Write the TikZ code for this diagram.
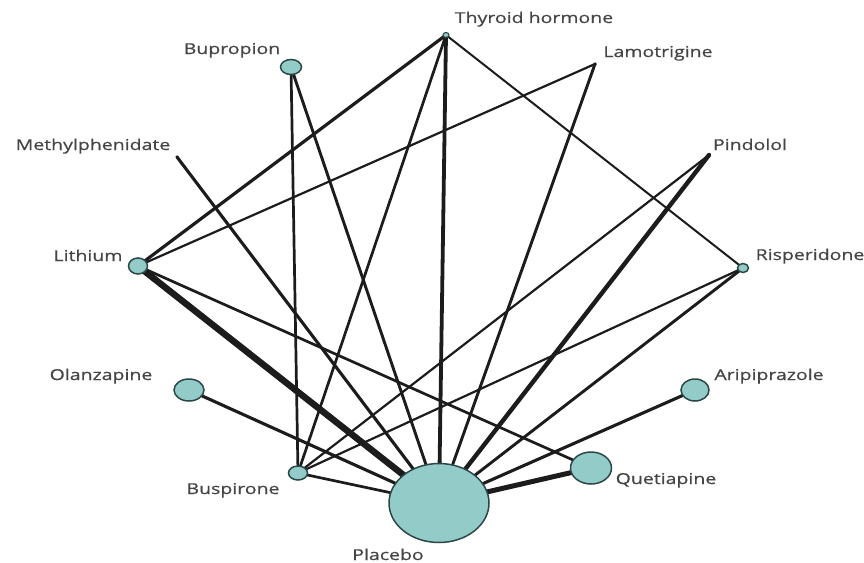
\documentclass[tikz,border=0pt]{standalone}
\usepackage{fontspec}
\newfontfamily\lblfont{Open Sans}[FakeStretch=1.3,FakeBold=0.6]
\usetikzlibrary{shapes.geometric,backgrounds}
\definecolor{nodefill}{HTML}{92CBC7}
\definecolor{nodeedge}{HTML}{2B4747}
\definecolor{edgecol}{HTML}{1C1C1C}
\definecolor{txtcol}{HTML}{454545}
\tikzset{
  trt/.style n args={2}{ellipse, draw=nodeedge, fill=nodefill, line width=1.5pt,
    inner sep=0pt, minimum width=#1, minimum height=#2},
  tinydot/.style={circle, fill=edgecol, inner sep=0pt, minimum size=3.5pt},
  lbl/.style={anchor=base, inner sep=0pt, text=txtcol, font=\lblfont\fontsize{15}{18}\selectfont},
  cx/.style={draw=edgecol, line width=#1, line cap=round}
}
\begin{document}
\begin{tikzpicture}[x=1pt,y=-1pt]
\useasboundingbox (0,0) rectangle (864,562);
% nodes
\node[trt={100pt}{79pt}] (pla) at (439,503) {};
\node[trt={41pt}{32pt}] (que) at (591,468) {};
\node[trt={28pt}{22pt}] (ari) at (695,390) {};
\node[trt={30pt}{22pt}] (ola) at (189,390) {};
\node[trt={21pt}{15pt}] (bup) at (291,67) {};
\node[trt={19pt}{16pt}] (lit) at (138,266) {};
\node[trt={19pt}{14pt}] (bus) at (298,473) {};
\node[trt={11pt}{9pt}] (ris) at (743,268) {};
\node[trt={6pt}{5pt}, line width=1.1pt] (thy) at (446,35) {};
\node[tinydot] (lam) at (595,64) {};
\node[tinydot] (met) at (177,157) {};
\node[tinydot] (pin) at (709,155) {};
% labels
\node[lbl] (lthy) at (534,23) {Thyroid hormone};
\node[lbl] (llam) at (658,57) {Lamotrigine};
\node[lbl] (lbup) at (232,54) {Bupropion};
\node[lbl] (lmet) at (93,150) {Methylphenidate};
\node[lbl] (lpin) at (750,150) {Pindolol};
\node[lbl] (llit) at (88,261) {Lithium};
\node[lbl] (lris) at (810,260) {Risperidone};
\node[lbl] (lola) at (101,380) {Olanzapine};
\node[lbl] (lari) at (769,380) {Aripiprazole};
\node[lbl] (lbus) at (233,494) {Buspirone};
\node[lbl] (lque) at (666,484) {Quetiapine};
\node[lbl] (lpla) at (388,560) {Placebo};
% connectors
\begin{pgfonlayer}{background}
\draw[cx=6.5pt] (lit.center) -- (pla.center);
\draw[cx=5pt] (que.center) -- (pla.center);
\draw[cx=4.4pt] (pin.center) -- (pla.center);
\draw[cx=3.8pt] (thy.center) -- (pla.center);
\draw[cx=3.2pt] (thy.center) -- (lit.center);
\draw[cx=3.1pt] (met.center) -- (pla.center);
\draw[cx=3.1pt] (ola.center) -- (pla.center);
\draw[cx=3.1pt] (ari.center) -- (pla.center);
\draw[cx=2.9pt] (bup.center) -- (pla.center);
\draw[cx=2.9pt] (lam.center) -- (pla.center);
\draw[cx=2.9pt] (ris.center) -- (pla.center);
\draw[cx=2.7pt] (thy.center) -- (bus.center);
\draw[cx=2.7pt] (bup.center) -- (bus.center);
\draw[cx=2.7pt] (lit.center) -- (que.center);
\draw[cx=2.7pt] (bus.center) -- (pla.center);
\draw[cx=2.2pt] (pin.center) -- (bus.center);
\draw[cx=2.2pt] (ris.center) -- (bus.center);
\draw[cx=2.2pt] (lam.center) -- (lit.center);
\draw[cx=2pt] (thy.center) -- (ris.center);
\end{pgfonlayer}
\end{tikzpicture}
\end{document}
